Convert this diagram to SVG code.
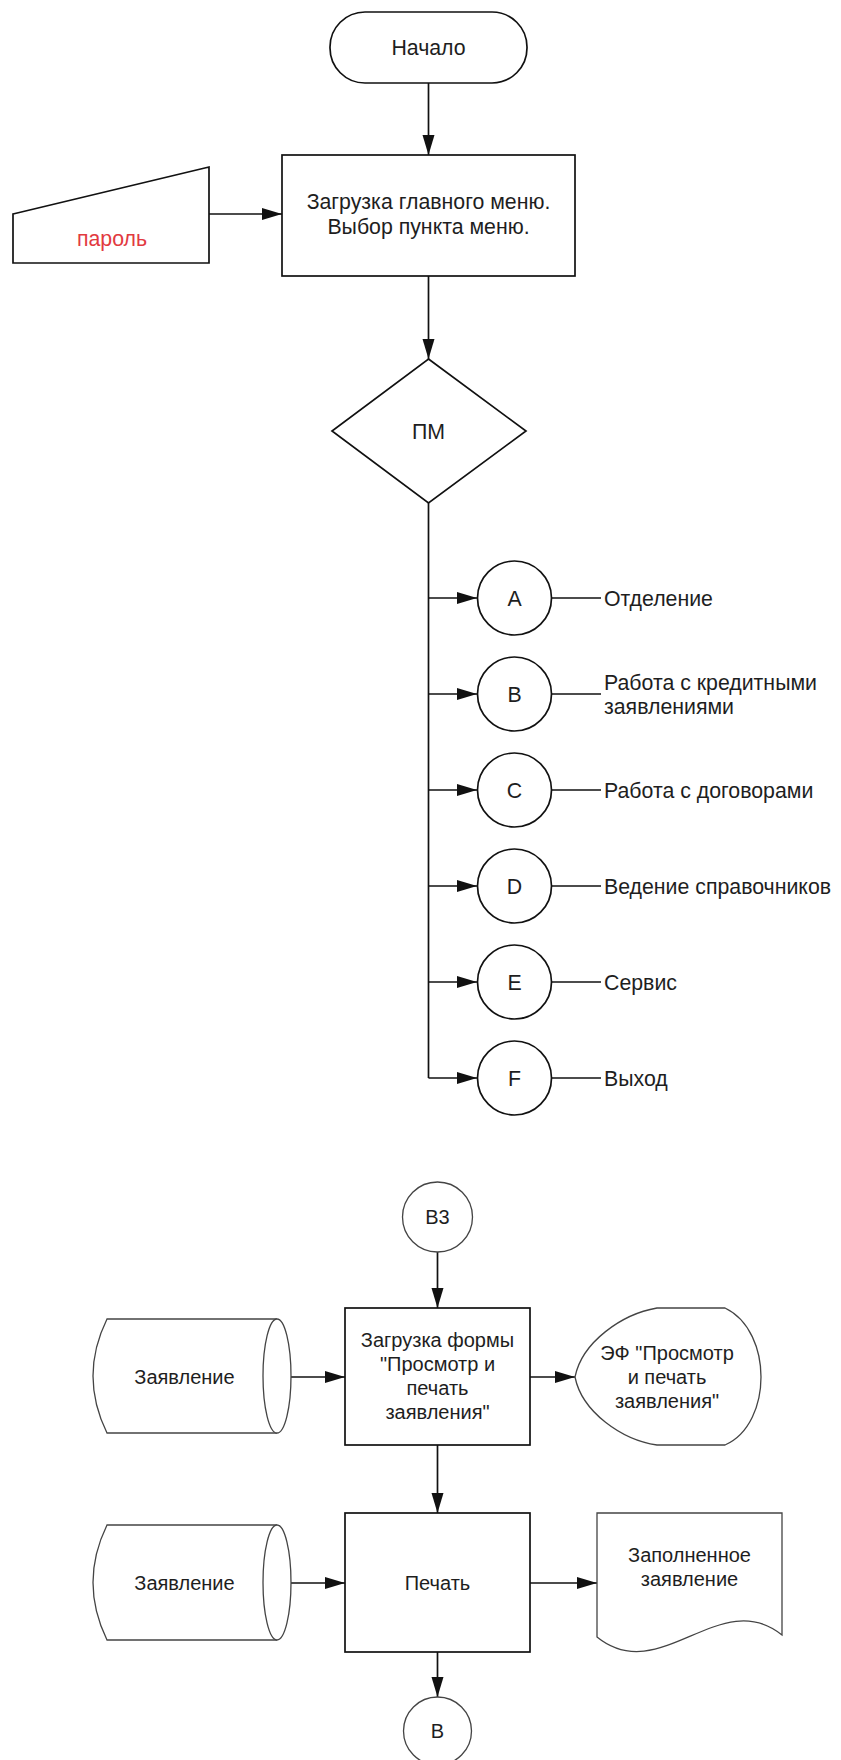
<svg xmlns="http://www.w3.org/2000/svg" width="841" height="1760" viewBox="0 0 841 1760">
  <defs>
    <style>
      .shape { fill: #ffffff; stroke: #111111; stroke-width: 1.7; }
      .thin { fill: #ffffff; stroke: #444444; stroke-width: 1.3; }
      .wire { fill: none; stroke: #111111; stroke-width: 1.7; }
      .t { font-family: "Liberation Sans", Arial, sans-serif; font-size: 21.3px; fill: #1e1e1e; text-anchor: middle; }
      .s { font-family: "Liberation Sans", Arial, sans-serif; font-size: 20px; fill: #1e1e1e; text-anchor: middle; }
      .lbl { font-family: "Liberation Sans", Arial, sans-serif; font-size: 21.3px; fill: #1e1e1e; text-anchor: start; }
      .red { fill: #e23a3f; }
    </style>
    <marker id="arrow" markerUnits="userSpaceOnUse" markerWidth="20" markerHeight="14" viewBox="0 0 20 14" refX="20" refY="7" orient="auto">
      <path d="M0,1 L20,7 L0,13 Z" fill="#111111"/>
    </marker>
  </defs>
  <rect width="841" height="1760" fill="#ffffff"/>

  <!-- connectors -->
  <g id="connectors">
    <line class="wire" x1="428.5" y1="83" x2="428.5" y2="155" marker-end="url(#arrow)"/>
    <line class="wire" x1="209" y1="214" x2="282" y2="214" marker-end="url(#arrow)"/>
    <line class="wire" x1="428.5" y1="276" x2="428.5" y2="359" marker-end="url(#arrow)"/>
    <line class="wire" x1="428.5" y1="503" x2="428.5" y2="1078"/>
    <line class="wire" x1="428.5" y1="598" x2="477" y2="598" marker-end="url(#arrow)"/>
    <line class="wire" x1="428.5" y1="694" x2="477" y2="694" marker-end="url(#arrow)"/>
    <line class="wire" x1="428.5" y1="790" x2="477" y2="790" marker-end="url(#arrow)"/>
    <line class="wire" x1="428.5" y1="886" x2="477" y2="886" marker-end="url(#arrow)"/>
    <line class="wire" x1="428.5" y1="982" x2="477" y2="982" marker-end="url(#arrow)"/>
    <line class="wire" x1="428.5" y1="1078" x2="477" y2="1078" marker-end="url(#arrow)"/>
    <line class="wire" x1="552" y1="598" x2="601" y2="598"/>
    <line class="wire" x1="552" y1="694" x2="601" y2="694"/>
    <line class="wire" x1="552" y1="790" x2="601" y2="790"/>
    <line class="wire" x1="552" y1="886" x2="601" y2="886"/>
    <line class="wire" x1="552" y1="982" x2="601" y2="982"/>
    <line class="wire" x1="552" y1="1078" x2="601" y2="1078"/>
    <line class="wire" x1="437.5" y1="1252" x2="437.5" y2="1308" marker-end="url(#arrow)"/>
    <line class="wire" x1="291" y1="1377" x2="345" y2="1377" marker-end="url(#arrow)"/>
    <line class="wire" x1="530" y1="1377" x2="575" y2="1377" marker-end="url(#arrow)"/>
    <line class="wire" x1="437.5" y1="1445" x2="437.5" y2="1513" marker-end="url(#arrow)"/>
    <line class="wire" x1="291" y1="1583" x2="345" y2="1583" marker-end="url(#arrow)"/>
    <line class="wire" x1="530" y1="1583" x2="597" y2="1583" marker-end="url(#arrow)"/>
    <line class="wire" x1="437.5" y1="1652" x2="437.5" y2="1697" marker-end="url(#arrow)"/>
  </g>

  <!-- main menu flow -->
  <g id="start">
    <rect class="shape" x="330" y="12" width="197" height="71" rx="35" ry="35"/>
    <text class="t" x="428.5" y="54.5">Начало</text>
  </g>

  <g id="password">
    <polygon class="shape" points="13,214 209,167 209,263 13,263"/>
    <text class="t red" x="112" y="246">пароль</text>
  </g>

  <g id="main-menu">
    <rect class="shape" x="282" y="155" width="293" height="121"/>
    <text class="t" x="428.5" y="209">Загрузка главного меню.</text>
    <text class="t" x="428.5" y="234">Выбор пункта меню.</text>
  </g>

  <g id="menu-choice">
    <polygon class="shape" points="428.5,359 526,431 428.5,503 332,431"/>
    <text class="t" x="428.5" y="438.5">ПМ</text>
  </g>

  <g id="item-a">
    <circle class="shape" cx="514.5" cy="598" r="37"/>
    <text class="t" x="514.5" y="605.5">A</text>
    <text class="lbl" x="604" y="605.5">Отделение</text>
  </g>
  <g id="item-b">
    <circle class="shape" cx="514.5" cy="694" r="37"/>
    <text class="t" x="514.5" y="701.5">B</text>
    <text class="lbl" x="604" y="690">Работа с кредитными</text>
    <text class="lbl" x="604" y="714">заявлениями</text>
  </g>
  <g id="item-c">
    <circle class="shape" cx="514.5" cy="790" r="37"/>
    <text class="t" x="514.5" y="797.5">C</text>
    <text class="lbl" x="604" y="797.5">Работа с договорами</text>
  </g>
  <g id="item-d">
    <circle class="shape" cx="514.5" cy="886" r="37"/>
    <text class="t" x="514.5" y="893.5">D</text>
    <text class="lbl" x="604" y="893.5">Ведение справочников</text>
  </g>
  <g id="item-e">
    <circle class="shape" cx="514.5" cy="982" r="37"/>
    <text class="t" x="514.5" y="989.5">E</text>
    <text class="lbl" x="604" y="989.5">Сервис</text>
  </g>
  <g id="item-f">
    <circle class="shape" cx="514.5" cy="1078" r="37"/>
    <text class="t" x="514.5" y="1085.5">F</text>
    <text class="lbl" x="604" y="1085.5">Выход</text>
  </g>

  <!-- application print flow -->
  <g id="b3">
    <circle class="thin" cx="437.5" cy="1217" r="35"/>
    <text class="s" x="437.5" y="1224">B3</text>
  </g>

  <g id="application-in-1">
    <path class="thin" d="M107,1319 H277 A14,57 0 0 1 277,1433 H107 Q79,1376 107,1319 Z"/>
    <path class="thin" fill="none" d="M277,1319 A14,57 0 0 0 277,1433"/>
    <text class="s" x="184.5" y="1384">Заявление</text>
  </g>

  <g id="load-form">
    <rect class="shape" x="345" y="1308" width="185" height="137"/>
    <text class="s" x="437.5" y="1347">Загрузка формы</text>
    <text class="s" x="437.5" y="1371">"Просмотр и</text>
    <text class="s" x="437.5" y="1395">печать</text>
    <text class="s" x="437.5" y="1419">заявления"</text>
  </g>

  <g id="form-display">
    <path class="thin" d="M657,1308 H725 C750,1320 761,1350 761,1377 C761,1404 750,1434 725,1445 H657 C622,1440 582,1412 575,1377 C582,1342 622,1314 657,1308 Z"/>
    <text class="s" x="667" y="1360">ЭФ "Просмотр</text>
    <text class="s" x="667" y="1384">и печать</text>
    <text class="s" x="667" y="1408">заявления"</text>
  </g>

  <g id="application-in-2">
    <path class="thin" d="M107,1525 H277 A14,57.5 0 0 1 277,1640 H107 Q79,1582.5 107,1525 Z"/>
    <path class="thin" fill="none" d="M277,1525 A14,57.5 0 0 0 277,1640"/>
    <text class="s" x="184.5" y="1590">Заявление</text>
  </g>

  <g id="print">
    <rect class="shape" x="345" y="1513" width="185" height="139"/>
    <text class="s" x="437.5" y="1590">Печать</text>
  </g>

  <g id="filled-application">
    <path class="thin" d="M597,1513 H782 V1635 C720,1585 660,1688 597,1637 Z"/>
    <text class="s" x="689.5" y="1562">Заполненное</text>
    <text class="s" x="689.5" y="1586">заявление</text>
  </g>

  <g id="b">
    <circle class="thin" cx="437.5" cy="1731" r="34"/>
    <text class="s" x="437.5" y="1738">B</text>
  </g>
</svg>
